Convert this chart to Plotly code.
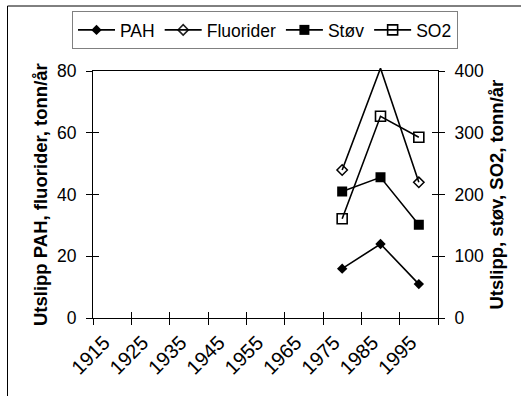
import plotly.graph_objects as go

years = ["1915", "1925", "1935", "1945", "1955", "1965", "1975", "1985", "1995"]
pah = [None, None, None, None, None, None, 16, 24, 11]
fluorider = [None, None, None, None, None, None, 48, 81, 44]
stov = [None, None, None, None, None, None, 205, 228, 151]
so2 = [None, None, None, None, None, None, 161, 327, 293]

left_ticks = [0, 20, 40, 60, 80]
right_ticks = [0, 100, 200, 300, 400]
left_max = 80
right_max = 400

FONT = "Liberation Sans, Arial, sans-serif"
W, H = 521, 396
ML, MR, MT, MB = 93, 83, 61, 78
DOM_TOP = 0.96
PW = W - ML - MR
PH = H - MT - MB

fig = go.Figure()

line_style = dict(color="black", width=1.6)

fig.add_trace(go.Scatter(
    x=years, y=pah, name="PAH", mode="lines+markers",
    line=line_style, marker=dict(symbol="diamond", size=8, color="black"),
    xaxis="x", yaxis="y"))

# Fluorider drawn on an axis whose domain reaches a little higher, so its line can
# pass above the 80 frame like in the original; markers above range hidden.
fl_opacity = [0 if (v is not None and v > left_max) else 1 for v in fluorider]
fig.add_trace(go.Scatter(
    x=years, y=fluorider, name="Fluorider", mode="lines+markers",
    line=line_style,
    marker=dict(symbol="diamond-open", size=8, color="black",
                opacity=fl_opacity, line=dict(width=1.5, color="black")),
    xaxis="x", yaxis="y5"))

fig.add_trace(go.Scatter(
    x=years, y=stov, name="Støv", mode="lines+markers",
    line=line_style, marker=dict(symbol="square", size=10, color="black"),
    xaxis="x", yaxis="y2"))

fig.add_trace(go.Scatter(
    x=years, y=so2, name="SO2", mode="lines+markers",
    line=line_style,
    marker=dict(symbol="square-open", size=10, color="black",
                line=dict(width=1.6, color="black")),
    xaxis="x", yaxis="y2"))

# dummy invisible traces so the overlay tick axes are drawn
fig.add_trace(go.Scatter(x=years, y=[None] * len(years), xaxis="x2", yaxis="y3",
                         showlegend=False, hoverinfo="skip"))
fig.add_trace(go.Scatter(x=years, y=[None] * len(years), xaxis="x", yaxis="y4",
                         showlegend=False, hoverinfo="skip"))

tickfont = dict(family=FONT, size=17.5, color="black")
xtickfont = dict(family=FONT, size=20, color="black")
titlefont = dict(family=FONT, size=18.5, color="black")
xrange = [-0.5, len(years) - 0.5]

common = dict(automargin=False, showgrid=False, zeroline=False)

fig.update_layout(
    template="none",
    width=W, height=H,
    margin=dict(l=ML, r=MR, t=MT, b=MB, pad=0, autoexpand=False),
    paper_bgcolor="white", plot_bgcolor="rgba(0,0,0,0)",
    font=dict(family=FONT, size=17.5, color="black"),
    xaxis=dict(
        type="category", categoryorder="array", categoryarray=years,
        range=xrange, tickson="boundaries", ticks="outside", ticklen=6,
        tickcolor="black", tickwidth=1, tickangle=-45, tickfont=xtickfont,
        ticklabelstandoff=4, ticklabelshift=-8,
        showline=True, linecolor="black", linewidth=1.2, mirror=True,
        anchor="y", domain=[0, 1], **common,
    ),
    xaxis2=dict(
        type="category", categoryorder="array", categoryarray=years,
        range=xrange, tickson="boundaries", ticks="inside", ticklen=6,
        tickcolor="black", tickwidth=1, showticklabels=False,
        showline=False, overlaying="x", anchor="y", **common,
    ),
    yaxis=dict(
        range=[0, left_max], tickvals=left_ticks, ticks="outside", ticklen=6,
        tickcolor="black", tickwidth=1, tickfont=tickfont,
        ticklabelstandoff=6,
        showline=True, linecolor="black", linewidth=1.2,
        domain=[0, DOM_TOP], anchor="x",
        title=dict(text="<b>Utslipp PAH, fluorider, tonn/år</b>",
                   font=titlefont, standoff=4),
        **common,
    ),
    yaxis2=dict(
        range=[0, right_max], tickvals=right_ticks, ticks="outside", ticklen=6,
        tickcolor="black", tickwidth=1, tickfont=tickfont,
        ticklabelstandoff=6,
        showline=True, linecolor="black", linewidth=1.2,
        overlaying="y", side="right", anchor="x",
        title=dict(text="<b>Utslipp, støv, SO2, tonn/år</b>",
                   font=titlefont, standoff=6),
        **common,
    ),
    yaxis3=dict(
        range=[0, left_max], tickvals=left_ticks, ticks="inside", ticklen=6,
        tickcolor="black", tickwidth=1, showticklabels=False,
        showline=False, overlaying="y", side="left", anchor="x", **common,
    ),
    yaxis4=dict(
        range=[0, right_max], tickvals=right_ticks, ticks="inside", ticklen=6,
        tickcolor="black", tickwidth=1, showticklabels=False,
        showline=False, overlaying="y", side="right", anchor="x", **common,
    ),
    yaxis5=dict(
        range=[0, left_max / DOM_TOP], domain=[0, 1], anchor="x",
        visible=False, **common,
    ),
    legend=dict(
        orientation="h", x=(72 - ML) / PW, y=(H - MB - 11) / PH,
        xanchor="left", yanchor="top",
        bordercolor="#808080", borderwidth=1, bgcolor="white",
        font=dict(family=FONT, size=17.5, color="black"),
        itemsizing="trace", tracegroupgap=0, itemwidth=37,
    ),
    showlegend=True,
    shapes=[dict(
        type="rect", xref="paper", yref="paper",
        x0=(7.5 - ML) / PW, x1=(W + 20 - ML) / PW,
        y0=(H - MB - (H + 20)) / PH, y1=(H - MB - 6) / PH,
        line=dict(color="black", width=1), fillcolor="rgba(0,0,0,0)",
        layer="below",
    )],
)

fig.write_html("out.html")
